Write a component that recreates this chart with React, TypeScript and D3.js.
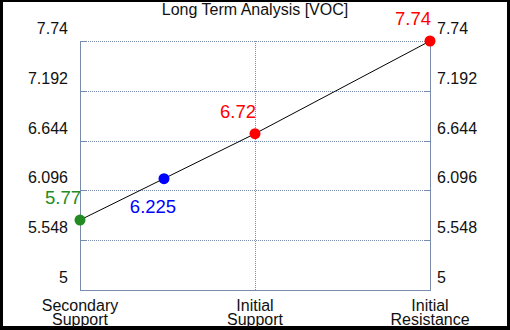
import React, { useEffect, useRef } from 'react';
import * as d3 from 'd3';

const title = 'Long Term Analysis [VOC]';
const categories = [['Secondary', 'Support'], ['Initial', 'Support'], ['Initial', 'Resistance']];
const yTicks = [5, 5.548, 6.096, 6.644, 7.192, 7.74];
// points: x position in category units, value, colour, label offset
const points = [
  { x: 0, value: 5.77, color: '#228b22', dx: -17, dy: -16 },
  { x: 0.48, value: 6.225, color: '#0000ff', dx: -11, dy: 34 },
  { x: 1, value: 6.72, color: '#ff0000', dx: -17, dy: -16 },
  { x: 2, value: 7.74, color: '#ff0000', dx: -17, dy: -16 },
];
const lineValues = [5.77, 6.72, 7.74];

const App = () => {
  const ref = useRef<SVGSVGElement>(null);

  useEffect(() => {
    document.body.style.margin = '0';
    const width = 510;
    const height = 330;
    const margin = { top: 41, right: 80, bottom: 40, left: 80 };

    const svg = d3.select(ref.current).attr('width', width).attr('height', height);
    svg.selectAll('*').remove();

    svg.append('rect').attr('width', width).attr('height', height).attr('fill', '#000');
    svg.append('rect').attr('x', 3).attr('y', 2).attr('width', 504).attr('height', 324).attr('fill', '#fff');

    const x = d3.scaleLinear().domain([0, 2]).range([margin.left, width - margin.right]);
    const y = d3.scaleLinear().domain([5, 7.74]).range([height - margin.bottom, margin.top]);

    const axisColor = '#7a8cab';
    const font = 'Arial, "Liberation Sans", sans-serif';

    // horizontal grid
    svg.selectAll('.hgrid')
      .data(yTicks)
      .enter()
      .append('line')
      .attr('x1', x(0))
      .attr('x2', x(2))
      .attr('y1', (d) => Math.round(y(d)) + 0.5)
      .attr('y2', (d) => Math.round(y(d)) + 0.5)
      .attr('stroke', axisColor)
      .attr('stroke-dasharray', '1,1');

    // vertical grid at middle category
    svg.append('line')
      .attr('x1', x(1) + 0.5).attr('x2', x(1) + 0.5)
      .attr('y1', y(7.74)).attr('y2', y(5))
      .attr('stroke', axisColor)
      .attr('stroke-dasharray', '1,1');

    // axes
    [x(0), x(2)].forEach((xp) => {
      svg.append('line')
        .attr('x1', xp + 0.5).attr('x2', xp + 0.5)
        .attr('y1', y(7.74)).attr('y2', y(5) + 0.5)
        .attr('stroke', axisColor);
    });
    svg.append('line')
      .attr('x1', x(0)).attr('x2', x(2) + 1)
      .attr('y1', Math.round(y(5)) + 0.5).attr('y2', Math.round(y(5)) + 0.5)
      .attr('stroke', axisColor);

    // inward tick marks
    yTicks.forEach((t) => {
      const yp = Math.round(y(t)) + 0.5;
      svg.append('line').attr('x1', x(0)).attr('x2', x(0) + 6).attr('y1', yp).attr('y2', yp).attr('stroke', axisColor);
      svg.append('line').attr('x1', x(2) - 5).attr('x2', x(2) + 1).attr('y1', yp).attr('y2', yp).attr('stroke', axisColor);
    });

    // tick labels (sit above their grid lines)
    yTicks.forEach((t) => {
      svg.append('text')
        .attr('x', x(0) - 12)
        .attr('y', y(t) - 7)
        .attr('text-anchor', 'end')
        .attr('font-family', font)
        .attr('font-size', 16)
        .attr('fill', '#111')
        .text(t);
      svg.append('text')
        .attr('x', x(2) + 7)
        .attr('y', y(t) - 7)
        .attr('text-anchor', 'start')
        .attr('font-family', font)
        .attr('font-size', 16)
        .attr('fill', '#111')
        .text(t);
    });

    // category labels
    categories.forEach((c, i) => {
      const t = svg.append('text')
        .attr('text-anchor', 'middle')
        .attr('font-family', font)
        .attr('font-size', 16)
        .attr('fill', '#111');
      t.append('tspan').attr('x', x(i)).attr('y', 311).text(c[0]);
      t.append('tspan').attr('x', x(i)).attr('y', 324.5).text(c[1]);
    });

    // title
    svg.append('text')
      .attr('x', width / 2)
      .attr('y', 15)
      .attr('text-anchor', 'middle')
      .attr('font-family', font)
      .attr('font-size', 16)
      .attr('fill', '#111')
      .text(title);

    // line
    const line = d3.line<number>()
      .x((d, i) => x(i))
      .y((d) => y(d));
    svg.append('path')
      .datum(lineValues)
      .attr('d', line)
      .attr('fill', 'none')
      .attr('stroke', '#000')
      .attr('stroke-width', 1);

    // points
    svg.selectAll('.pt')
      .data(points)
      .enter()
      .append('circle')
      .attr('cx', (d) => x(d.x))
      .attr('cy', (d) => y(d.value))
      .attr('r', 5.5)
      .attr('fill', (d) => d.color);

    svg.selectAll('.lbl')
      .data(points)
      .enter()
      .append('text')
      .attr('x', (d) => x(d.x) + d.dx)
      .attr('y', (d) => y(d.value) + d.dy)
      .attr('text-anchor', 'middle')
      .attr('font-family', font)
      .attr('font-size', 18.5)
      .attr('fill', (d) => d.color)
      .text((d) => d.value);
  }, []);

  return <svg ref={ref} style={{ display: 'block' }} />;
};

export default App;
